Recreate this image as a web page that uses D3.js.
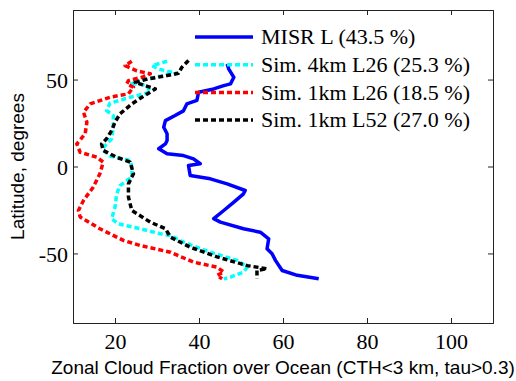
<!DOCTYPE html>
<html>
<head>
<meta charset="utf-8">
<script src="https://cdn.jsdelivr.net/npm/d3@7"></script>
<style>
  body { margin: 0; background: #fff; }
  .axis-title { font-family: "Liberation Sans", Arial, sans-serif; font-size: 19px; }
  .legend-label { font-family: "Liberation Serif", "Times New Roman", serif; font-size: 22px; }
  .tick text { font-family: "Liberation Serif", "Times New Roman", serif !important; font-size: 22px !important; }
</style>
</head>
<body>
<div id="chart"></div>
<script>
// Latitude (degrees) and zonal cloud fraction (%)
const misrLat = [59, 56, 51.3, 47.5, 46.5, 44.6, 42.7, 38, 36, 32, 29.3, 26.4, 22.6, 18.8, 15, 13, 10.2, 7.3, 6.3, 4.4, 1.6, 0.6, -5.2, -7.1, -10, -13.8, -15.7, -20.5, -25.3, -30, -32, -35.8, -37.8, -41.6, -47.3, -50.2, -54, -59.8, -62.6, -64.5];
const misrCf  = [46.7, 47.1, 48.3, 47.5, 45.9, 43.5, 39.9, 39.5, 37.1, 36.3, 34.3, 32.0, 31.6, 32.4, 32.4, 32.0, 30.4, 32.4, 36.3, 38.7, 40.3, 37.5, 37.9, 42.7, 46.7, 51.0, 50.6, 48.3, 45.9, 43.5, 45.1, 50.6, 54.6, 56.6, 56.2, 57.4, 58.2, 59.8, 63.4, 68.5];

const sim4kmL26Lat = [60.5, 58, 56, 53.6, 49.4, 47.9, 46.6, 42.7, 39.8, 36.4, 32.2, 29.3, 22.6, 15.9, 13, 10, 6, 3.5, -1, -6, -11, -15.7, -23.4, -30, -33, -35.8, -38.7, -39.7, -43.5, -49.3, -54, -57.9, -60.7, -63.6, -64.6];
const sim4kmL26Cf  = [32.4, 28.8, 30.4, 34.7, 25.2, 24.0, 27.6, 28.4, 23.6, 18.8, 18.0, 19.6, 19.6, 19.2, 18.0, 17.0, 18.8, 23.6, 24.1, 24.0, 21.2, 20.4, 20.0, 19.2, 20.8, 26.0, 30.8, 33.2, 36.3, 42.7, 49.1, 51.5, 50.6, 47.5, 45.9];

const sim1kmL26Lat = [60.5, 58, 55, 53.3, 51.3, 49.4, 47.5, 45.6, 41.8, 39.8, 36, 31.2, 25.5, 18.8, 15.3, 13, 8.2, 5.3, 2.5, -4.2, -11.9, -19.5, -25.3, -29, -35.8, -42.5, -45.4, -49.3, -55, -57.9, -60.7, -62.6, -64.6];
const sim1kmL26Cf  = [24.0, 22.4, 25.2, 28.4, 26.4, 23.2, 22.8, 24.4, 23.2, 18.8, 14.1, 12.5, 13.3, 12.9, 11.7, 10.9, 11.7, 15.7, 17.2, 16.4, 14.8, 12.5, 11.3, 11.7, 16.4, 22.0, 26.0, 33.2, 38.7, 44.3, 45.9, 44.3, 45.5];

const sim1kmL52Lat = [61, 57, 53.6, 52.3, 50.4, 48.4, 44.6, 39.8, 36, 30.3, 25.5, 20.7, 15.9, 13, 9.2, 5.3, 2.5, -4.2, -10, -17.6, -25.3, -32, -35.8, -40.6, -46.4, -52, -57, -58.8, -59.8, -64.6];
const sim1kmL52Cf  = [37.5, 35.9, 35.1, 32.4, 28.0, 24.8, 29.6, 26.4, 24.0, 21.2, 20.0, 19.2, 18.0, 16.8, 17.2, 20.4, 23.6, 24.4, 23.2, 23.2, 24.0, 28.4, 32.0, 33.2, 37.9, 44.3, 51.5, 56.2, 53.8, 53.8];

const seriesNames = ['MISR L (43.5 %)', 'Sim. 4km L26 (25.3 %)', 'Sim. 1km L26 (18.5 %)', 'Sim. 1km L52 (27.0 %)'];
const xTicks = [20, 40, 60, 80, 100];
const yTicks = [-50, 0, 50];

class ProfilePlot {
    constructor(_config) {
        this.config = {
            parentElement: _config.parentElement,
            containerWidth: 516,
            containerHeight: 381,
            margin: {top: 10, right: 23, bottom: 58, left: 73},
            tickLength: 5,
            legendX: 195,
            legendY: 37,
            legendLineWidth: 58,
            legendRowHeight: 27.7
        };
        this.series = [
            {name: seriesNames[0], lat: misrLat, cf: misrCf, color: '#0000ff', dash: null},
            {name: seriesNames[1], lat: sim4kmL26Lat, cf: sim4kmL26Cf, color: '#00ffff', dash: '5,3'},
            {name: seriesNames[2], lat: sim1kmL26Lat, cf: sim1kmL26Cf, color: '#ff0000', dash: '5,3'},
            {name: seriesNames[3], lat: sim1kmL52Lat, cf: sim1kmL52Cf, color: '#000000', dash: '5,3'}
        ];
        this.initVis();
    }

    initVis() {
        let vis = this;
        vis.width = vis.config.containerWidth - vis.config.margin.left - vis.config.margin.right;
        vis.height = vis.config.containerHeight - vis.config.margin.top - vis.config.margin.bottom;

        vis.svg = d3.select(vis.config.parentElement).append('svg')
            .attr('width', vis.config.containerWidth)
            .attr('height', vis.config.containerHeight);

        vis.chart = vis.svg.append('g')
            .attr('transform', `translate(${vis.config.margin.left},${vis.config.margin.top})`);

        vis.xScale = d3.scaleLinear().domain([10, 110]).range([0, vis.width]);
        vis.yScale = d3.scaleLinear().domain([-90, 90]).range([vis.height, 0]);

        vis.renderVis();
    }

    renderVis() {
        let vis = this;
        const tl = vis.config.tickLength;

        // Inward ticks on all four sides (box on)
        const xBottom = vis.chart.append('g')
            .attr('transform', `translate(0,${vis.height})`)
            .call(d3.axisBottom(vis.xScale).tickValues(xTicks).tickSize(-tl).tickPadding(10).tickFormat(d => String(d)));
        const xTop = vis.chart.append('g')
            .call(d3.axisTop(vis.xScale).tickValues(xTicks).tickSize(-tl).tickFormat(''));
        const yLeft = vis.chart.append('g')
            .call(d3.axisLeft(vis.yScale).tickValues(yTicks).tickSize(-tl).tickPadding(5).tickFormat(d => String(d)));
        const yRight = vis.chart.append('g')
            .attr('transform', `translate(${vis.width},0)`)
            .call(d3.axisRight(vis.yScale).tickValues(yTicks).tickSize(-tl).tickFormat(''));

        [xBottom, xTop, yLeft, yRight].forEach(ax => {
            ax.select('.domain').attr('stroke', '#222').attr('stroke-width', 1);
            ax.selectAll('.tick line').attr('stroke', '#222');
            ax.selectAll('.tick text').attr('fill', '#000');
        });
        xBottom.selectAll('.tick text').attr('dy', '0.71em');
        yLeft.selectAll('.tick text').attr('dy', '0.35em');

        // Profiles
        const line = d3.line()
            .x(d => vis.xScale(d[0]))
            .y(d => vis.yScale(d[1]));

        vis.chart.selectAll('.profile')
            .data(vis.series)
            .join('path')
            .attr('class', 'profile')
            .attr('fill', 'none')
            .attr('stroke', d => d.color)
            .attr('stroke-width', 3.5)
            .attr('stroke-dasharray', d => d.dash)
            .attr('stroke-linejoin', 'round')
            .attr('d', d => line(d.cf.map((v, i) => [v, d.lat[i]])));

        // Legend (no box)
        const legend = vis.svg.append('g')
            .attr('transform', `translate(${vis.config.legendX},${vis.config.legendY})`);
        const rows = legend.selectAll('.legend-row')
            .data(vis.series)
            .join('g')
            .attr('class', 'legend-row')
            .attr('transform', (d, i) => `translate(0,${i * vis.config.legendRowHeight})`);
        rows.append('line')
            .attr('x1', 0)
            .attr('x2', vis.config.legendLineWidth)
            .attr('stroke', d => d.color)
            .attr('stroke-width', 3.5)
            .attr('stroke-dasharray', d => d.dash);
        rows.append('text')
            .attr('class', 'legend-label')
            .attr('x', vis.config.legendLineWidth + 8)
            .attr('dy', '0.33em')
            .text(d => d.name);

        // Axis titles
        vis.svg.append('text')
            .attr('class', 'axis-title')
            .attr('text-anchor', 'middle')
            .attr('x', vis.config.margin.left + vis.width / 2)
            .attr('y', 374)
            .text('Zonal Cloud Fraction over Ocean (CTH<3 km, tau>0.3)');
        vis.svg.append('text')
            .attr('class', 'axis-title')
            .attr('text-anchor', 'middle')
            .attr('transform', `translate(24,${vis.config.margin.top + vis.height / 2}) rotate(-90)`)
            .text('Latitude, degrees');
    }
}

new ProfilePlot({parentElement: '#chart'});
</script>
</body>
</html>
